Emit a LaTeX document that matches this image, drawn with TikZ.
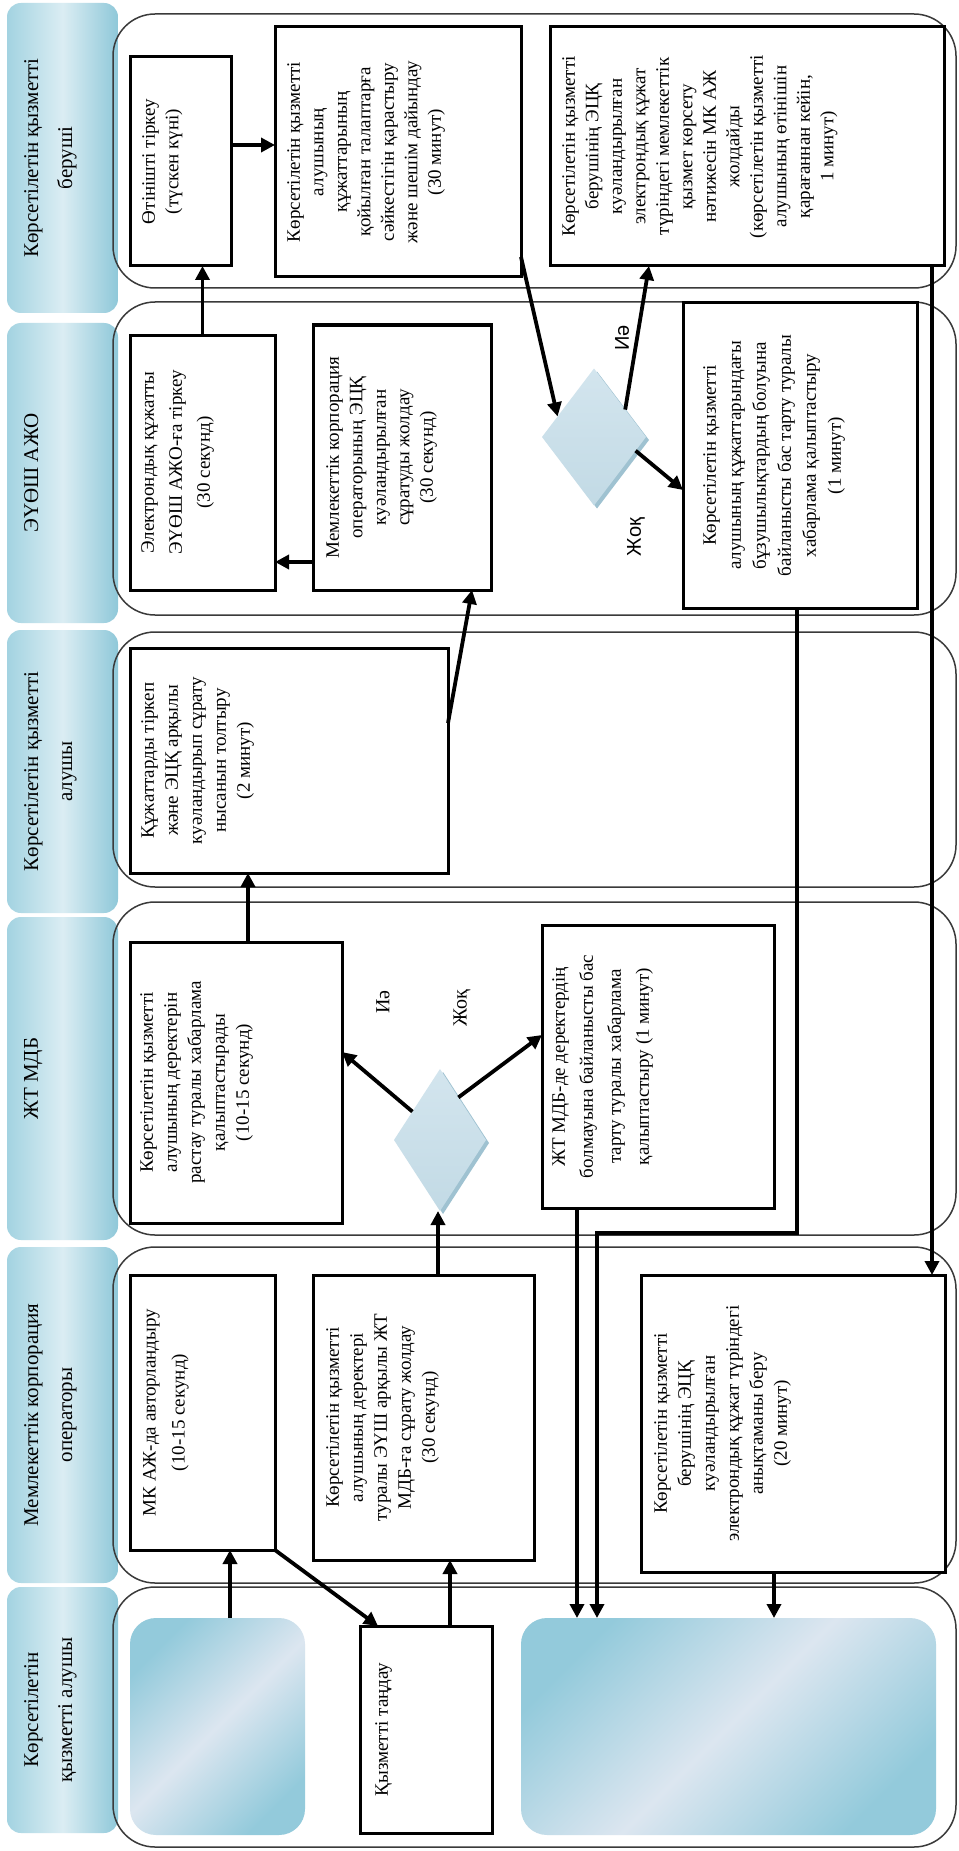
\documentclass[tikz,border=0pt]{standalone}
\usepackage{fontspec}
\setmainfont{Liberation Serif}
\newfontfamily\sansf{Liberation Sans}
\usetikzlibrary{arrows.meta,calc,shapes.geometric,fit}
\definecolor{lbedge}{HTML}{A3D3E1}
\definecolor{lbdark}{HTML}{8FC8D9}
\definecolor{lbmid}{HTML}{DBEDF3}
\definecolor{gdark}{HTML}{93CADB}
\definecolor{glight}{HTML}{DCE6F0}
\definecolor{diatop}{HTML}{D3E5EE}
\definecolor{diabot}{HTML}{C2DAE5}
\definecolor{diaedge}{HTML}{9FC2D1}
\definecolor{lanegray}{HTML}{3A3A3A}
\begin{document}
\begin{tikzpicture}[x=1pt,y=-1pt,
 lane/.style={draw=lanegray, line width=1.5pt, rounded corners=42pt, inner sep=0pt, outer sep=0pt},
 lablbox/.style={rounded corners=14pt, left color=lbedge, right color=lbdark, middle color=lbmid, inner sep=0pt, outer sep=0pt},
 box/.style={draw=black, line width=3pt, fill=white, inner sep=0pt, outer sep=0pt},
 gbox/.style={rounded corners=26pt, top color=gdark, bottom color=gdark, middle color=glight, shading angle=45, inner sep=0pt, outer sep=0pt},
 txt/.style={rotate=90, anchor=north, align=center, inner sep=0pt, font=\fontsize{19}{23.5}\selectfont},
 labtxt/.style={rotate=90, anchor=north, align=center, inner sep=0pt, font=\fontsize{21}{34}\selectfont},
 yn/.style={rotate=90, inner sep=0pt, font=\fontsize{20}{24}\selectfont},
 arr/.style={line width=3.8pt, -{Triangle[length=14pt,width=14pt]}},
 dia/.style={diamond, inner sep=0pt, outer sep=0pt, top color=diatop, bottom color=diabot},
 diash/.style={diamond, inner sep=0pt, outer sep=0pt, fill=diaedge},
]
\useasboundingbox (0,0) rectangle (958,1851);
\fill[white] (0,0) rectangle (958,1851);

% lane labels
\node[lablbox, fit={(7,3) (118,313)}] (L1) {};
\node[lablbox, fit={(7,323) (118,623)}] (L2) {};
\node[lablbox, fit={(7,630) (118,913)}] (L3) {};
\node[lablbox, fit={(7,917) (118,1240)}] (L4) {};
\node[lablbox, fit={(7,1247) (118,1583)}] (L5) {};
\node[lablbox, fit={(7,1587) (118,1833)}] (L6) {};
\node[labtxt] (L1t) at ([xshift=17pt]L1.west) {Көрсетілетін қызметті\\беруші};
\node[labtxt] (L2t) at ([xshift=17pt]L2.west) {ЭҮӨШ АЖО};
\node[labtxt] (L3t) at ([xshift=17pt]L3.west) {Көрсетілетін қызметті\\алушы};
\node[labtxt] (L4t) at ([xshift=17pt]L4.west) {ЖТ МДБ};
\node[labtxt] (L5t) at ([xshift=17pt]L5.west) {Мемлекеттік корпорация\\операторы};
\node[labtxt] (L6t) at ([xshift=17pt]L6.west) {Көрсетілетін\\қызметті алушы};

% lanes
\node[lane, fit={(113,14) (956,288)}] (S1) {};
\node[lane, fit={(113,302) (956,615)}] (S2) {};
\node[lane, fit={(113,632) (956,887)}] (S3) {};
\node[lane, fit={(113,902) (956,1235)}] (S4) {};
\node[lane, fit={(113,1247) (956,1583)}] (S5) {};
\node[lane, fit={(113,1587) (956,1847)}] (S6) {};

% boxes
\node[box, fit={(130,57) (231,266)}] (A) {};
\node[box, fit={(275,27) (521,277)}] (B) {};
\node[box, fit={(550,27) (944,266)}] (C) {};
\node[box, fit={(130,335) (275,590)}] (D) {};
\node[box, fit={(313,325) (491,590)}] (E) {};
\node[box, fit={(683,303) (917,608)}] (F) {};
\node[box, fit={(130,648) (448,873)}] (G) {};
\node[box, fit={(130,942) (342,1223)}] (H) {};
\node[box, fit={(542,925) (774,1208)}] (I) {};
\node[box, fit={(130,1275) (275,1550)}] (J) {};
\node[box, fit={(313,1275) (534,1560)}] (K) {};
\node[box, fit={(641,1275) (945,1572)}] (L) {};
\node[box, fit={(360,1626) (492,1833)}] (N) {};
\node[gbox, fit={(130,1618) (305,1835)}] (M) {};
\node[gbox, fit={(521,1618) (936,1835)}] (O) {};

% diamonds
\node[diash, minimum width=104pt, minimum height=137pt] (Dia1s) at (597,440) {};
\node[dia, minimum width=104pt, minimum height=137pt] (Dia1) at (594,437) {};
\node[diash, minimum width=92pt, minimum height=142pt] (Dia2s) at (443,1143) {};
\node[dia, minimum width=92pt, minimum height=142pt] (Dia2) at (440,1140) {};

% texts
\node[txt] (At) at ([xshift=12pt]A.west) {Өтінішті тіркеу\\(түскен күні)};
\node[txt] (Bt) at ([xshift=12pt]B.west) {Көрсетілетін қызметті\\алушының\\құжаттарының\\қойылған талаптарға\\сәйкестігін қарастыру\\және шешім дайындау\\(30 минут)};
\node[txt] (Ct) at ([xshift=12pt]C.west) {Көрсетілетін қызметті\\берушінің ЭЦҚ\\куәландырылған\\электрондық құжат\\түріндегі мемлекеттік\\қызмет көрсету\\нәтижесін МК АЖ\\жолдайды\\(көрсетілетін қызметті\\алушының өтінішін\\қарағаннан кейін,\\1 минут)};
\node[txt, font=\fontsize{19}{28}\selectfont] (Dt) at ([xshift=11pt]D.west) {Электрондық құжатты\\ЭҮӨШ АЖО-ға тіркеу\\(30 секунд)};
\node[txt] (Et) at ([xshift=13pt]E.west) {Мемлекеттік корпорация\\операторының ЭЦҚ\\куәландырылған\\сұратуды жолдау\\(30 секунд)};
\node[txt, font=\fontsize{19}{25}\selectfont] (Ft) at ([xshift=20pt]F.west) {Көрсетілетін қызметті\\алушының құжаттарындағы\\бұзушылықтардың болуына\\байланысты  бас тарту туралы\\хабарлама қалыптастыру\\(1 минут)};
\node[txt, font=\fontsize{19}{24}\selectfont] (Gt) at ([xshift=11pt]G.west) {Құжаттарды тіркеп\\және ЭЦҚ арқылы\\куәландырып сұрату\\нысанын толтыру\\(2 минут)};
\node[txt, font=\fontsize{19}{24}\selectfont] (Ht) at ([xshift=10pt]H.west) {Көрсетілетін қызметті\\алушының деректерін\\растау туралы хабарлама\\қалыптастырады\\(10-15 секунд)};
\node[txt, font=\fontsize{19}{28}\selectfont] (It) at ([xshift=10pt]I.west) {ЖТ МДБ-де деректердің\\болмауына байланысты бас\\тарту туралы хабарлама\\қалыптастыру (1 минут)};
\node[txt, font=\fontsize{19}{29}\selectfont] (Jt) at ([xshift=13pt]J.west) {МК АЖ-да авторландыру\\(10-15 секунд)};
\node[txt, font=\fontsize{19}{24}\selectfont] (Kt) at ([xshift=13pt]K.west) {Көрсетілетін қызметті\\алушының деректері\\туралы  ЭҮШ арқылы ЖТ\\МДБ-ға сұрату жолдау\\(30 секунд)};
\node[txt, font=\fontsize{19}{24}\selectfont] (Lt) at ([xshift=13pt]L.west) {Көрсетілетін қызметті\\берушінің ЭЦҚ\\куәландырылған\\электрондық құжат түріндегі\\анықтаманы беру\\(20 минут)};
\node[txt] (Nt) at ([xshift=15pt]N.west) {Қызметті таңдау};

% yes/no labels
\node[yn, font=\sansf\fontsize{20}{24}\selectfont] (y1) at (622,338) {Иә};
\node[yn, font=\sansf\fontsize{20}{24}\selectfont] (n1) at (636,537) {Жоқ};
\node[yn] (y2) at (383,1002) {Иә};
\node[yn] (n2) at (462,1008) {Жоқ};

% connectors
\draw[arr] ($(A.east)+(0,-16.5)$) -- ($(B.west)+(0,-7)$);
\draw[arr] (D.north) -- (D.north |- A.south);
\draw[arr] ($(E.west)+(0,104.5)$) -- ($(D.east)+(0,99.5)$);
\draw[arr] ($(G.east)+(0,-37.5)$) -- ($(E.south)+(70,0)$);
\draw[arr] ($(B.east)+(0,105)$) -- ($(Dia1.west)!0.3!(Dia1.north)$);
\draw[arr] ($(Dia1.north)!0.6!(Dia1.east)$) -- ($(C.south)+(-98,0)$);
\draw[arr] ($(Dia1.east)!0.2!(Dia1.south)$) -- ($(F.west)+(0,34.5)$);
\draw[arr] ($(F.south)+(-3,0)$) -- ++(0,625) -| ($(O.north)+(-131.5,0)$);
\draw[arr] ($(I.south)+(-81,0)$) coordinate (i1) -- (i1 |- O.north);
\draw[arr] ($(C.south)+(185,0)$) coordinate (c1) -- (c1 |- L.north);
\draw[arr] ($(L.south)+(-19,0)$) coordinate (l1) -- (l1 |- O.north);
\draw[arr] ($(M.north)+(12.5,0)$) coordinate (m1) -- (m1 |- J.south);
\draw[arr] (J.south east) -- ($(N.north)+(-48,0)$);
\draw[arr] ($(N.north)+(24,0)$) coordinate (n1c) -- (n1c |- K.south);
\draw[arr] ($(K.north)+(14.5,0)$) coordinate (k1) -- (k1 |- Dia2.south);
\draw[arr] ($(Dia2.west)!0.4!(Dia2.north)$) -- ($(H.east)+(0,-30.5)$);
\draw[arr] ($(Dia2.north)!0.4!(Dia2.east)$) -- ($(I.west)+(0,-31.5)$);
\draw[arr] ($(H.north)+(12,0)$) coordinate (h1) -- (h1 |- G.south);
\end{tikzpicture}
\end{document}
